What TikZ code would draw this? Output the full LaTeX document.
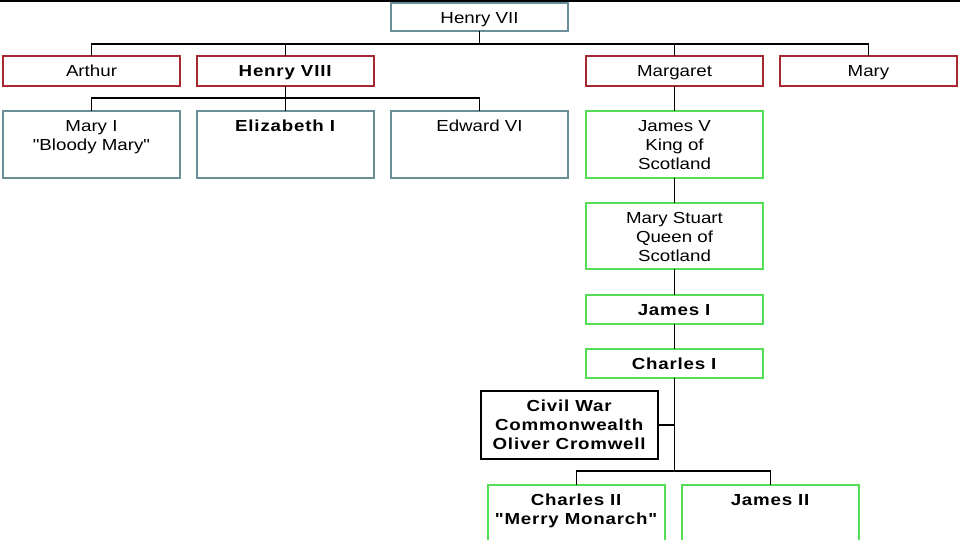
\documentclass[tikz,border=0pt]{standalone}
\usepackage{fontspec}
\setmainfont{Liberation Sans}[Ligatures=TeXOff, FakeStretch=1.17, BoldFeatures={FakeStretch=1.17, LetterSpace=5}]
\definecolor{redb}{HTML}{A82832}
\definecolor{blueb}{HTML}{6A8F99}
\definecolor{greenb}{HTML}{55DD55}
\newcommand{\bxt}[2]{\parbox[c][#1pt][t]{177pt}{\centering\rule{0pt}{20.5pt}#2}}
\tikzset{
  box/.style={draw, inner sep=0pt, outer sep=0pt, anchor=north west, line width=1.1pt,
    font=\fontsize{16}{19}\selectfont},
  redbox/.style={box, draw=redb},
  bluebox/.style={box, draw=blueb},
  greenbox/.style={box, draw=greenb, line width=1.6pt},
  blackbox/.style={box, draw=black, line width=1.3pt},
  link/.style={draw=black, line width=1.3pt}
}
\begin{document}
\begin{tikzpicture}[x=1pt,y=-1pt]
\useasboundingbox (0,0) rectangle (960,540);
\clip (0,0) rectangle (960,540);
\fill[white] (0,0) rectangle (960,540);
\draw[line width=1.6pt] (0,0.8) -- (960,0.8);

\node[bluebox] (hvii) at (391,3) {\bxt{28}{Henry VII}};
\node[redbox] (arthur) at (3,56) {\bxt{30}{Arthur}};
\node[redbox] (henryviii) at (197,56) {\bxt{30}{\textbf{Henry VIII}}};
\node[redbox] (margaret) at (586,56) {\bxt{30}{Margaret}};
\node[redbox] (maryT) at (780,56) {\bxt{30}{Mary}};

\node[bluebox] (maryI) at (3,111) {\bxt{67}{Mary I\\"Bloody Mary"}};
\node[bluebox] (eliz) at (197,111) {\bxt{67}{\textbf{Elizabeth I}}};
\node[bluebox] (edward) at (391,111) {\bxt{67}{Edward VI}};
\node[greenbox] (jamesV) at (586,111) {\bxt{67}{James V\\King of\\Scotland}};
\node[greenbox] (marystuart) at (586,203) {\bxt{66}{Mary Stuart\\Queen of\\Scotland}};
\node[greenbox] (jamesI) at (586,295) {\bxt{29}{\textbf{James I}}};
\node[greenbox] (charlesI) at (586,349) {\bxt{29}{\textbf{Charles I}}};
\node[blackbox] (civil) at (481,391) {\bxt{68}{\textbf{Civil War}\\\textbf{Commonwealth}\\\textbf{Oliver Cromwell}}};
\node[greenbox] (charlesII) at (488,485) {\bxt{70}{\textbf{Charles II}\\\textbf{"Merry Monarch"}}};
\node[greenbox] (jamesII) at (682,485) {\bxt{70}{\textbf{James II}}};

\coordinate (b1) at (hvii.south |- 0,44);
\coordinate (b2) at (henryviii.south |- 0,98);
\coordinate (b3) at (charlesI.south |- 0,471);

\draw[link] (hvii.south) -- (b1);
\draw[link] (arthur.north) |- (b1);
\draw[link] (maryT.north) |- (b1);
\draw[link] (henryviii.north) -- (henryviii.north |- b1);
\draw[link] (margaret.north) -- (margaret.north |- b1);

\draw[link] (henryviii.south) -- (b2);
\draw[link] (maryI.north) |- (b2);
\draw[link] (edward.north) |- (b2);
\draw[link] (eliz.north) -- (b2);

\draw[link] (margaret.south) -- (jamesV.north);
\draw[link] (jamesV.south) -- (marystuart.north);
\draw[link] (marystuart.south) -- (jamesI.north);
\draw[link] (jamesI.south) -- (charlesI.north);
\draw[link] (charlesI.south) -- (b3);
\draw[link] (civil.east) -- (civil.east -| b3);
\draw[link] (charlesII.north) |- (b3);
\draw[link] (jamesII.north) |- (b3);
\end{tikzpicture}
\end{document}
